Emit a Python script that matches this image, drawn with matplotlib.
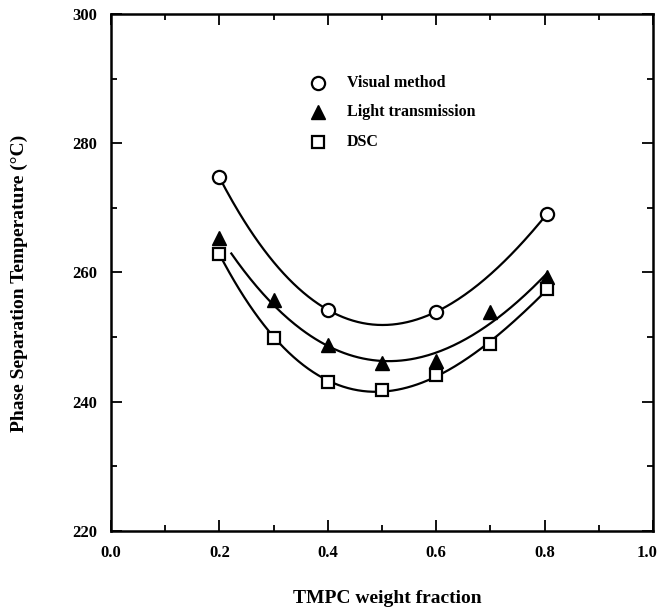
import numpy as np
import matplotlib
matplotlib.use("Agg")
import matplotlib.pyplot as plt
from matplotlib.ticker import MultipleLocator, FuncFormatter

plt.rcParams['font.family'] = ['Liberation Serif', 'DejaVu Serif']
plt.rcParams['font.weight'] = 'bold'

# TMPC weight fraction and measured phase separation temperatures (°C)
x_visual = [0.2, 0.4, 0.6, 0.805]
t_visual = [274.7, 254.2, 253.9, 269.1]

x_light = [0.2, 0.3, 0.4, 0.5, 0.6, 0.7, 0.805]
t_light = [265.3, 255.7, 248.7, 245.9, 246.3, 253.9, 259.3]

x_dsc = [0.2, 0.3, 0.4, 0.5, 0.6, 0.7, 0.805]
t_dsc = [262.9, 249.9, 243.1, 241.8, 244.1, 248.9, 257.5]

labels = ["Visual method", "Light transmission", "DSC"]

fig = plt.figure(figsize=(6.58, 6.08), dpi=100)
ax = fig.add_axes([0.1687, 0.1271, 0.8237, 0.8499])

# smooth trend curves: cubic least-squares fits of each series
def trend(xs, ts, x0, x1):
    c = np.polyfit(xs, ts, 3)
    xx = np.linspace(x0, x1, 200)
    return xx, np.polyval(c, xx)

for xs, ts, x0 in [(x_visual, t_visual, 0.2), (x_light, t_light, 0.222), (x_dsc, t_dsc, 0.2)]:
    xx, yy = trend(xs, ts, x0, xs[-1])
    ax.plot(xx, yy, color='black', lw=1.6, zorder=2)

ax.plot(x_visual, t_visual, 'o', ms=9.5, mfc='white', mec='black', mew=1.6, ls='none', zorder=3)
ax.plot(x_light, t_light, '^', ms=9.5, mfc='black', mec='black', mew=1.0, ls='none', zorder=3)
ax.plot(x_dsc, t_dsc, 's', ms=9, mfc='white', mec='black', mew=1.6, ls='none', zorder=3)

# key placed inside the plotting area
key_x = 0.382
key_y = [289.3, 284.8, 280.2]
ax.plot([key_x], [key_y[0]], 'o', ms=9.5, mfc='white', mec='black', mew=1.6)
ax.plot([key_x], [key_y[1]], '^', ms=9.5, mfc='black', mec='black')
ax.plot([key_x], [key_y[2]], 's', ms=9, mfc='white', mec='black', mew=1.6)
for yk, lab in zip(key_y, labels):
    ax.text(0.435, yk, lab, fontsize=11.5, fontweight='bold', va='center', ha='left')

ax.set_xlim(0.0, 1.0)
ax.set_ylim(220, 300)
ax.xaxis.set_major_locator(MultipleLocator(0.2))
ax.xaxis.set_minor_locator(MultipleLocator(0.1))
ax.yaxis.set_major_locator(MultipleLocator(20))
ax.yaxis.set_minor_locator(MultipleLocator(10))

# the label at the right end is drawn separately, pulled slightly inward
x_end = ax.get_xlim()[1]
ax.xaxis.set_major_formatter(FuncFormatter(
    lambda v, pos: '' if abs(v - x_end) < 1e-9 else f'{v:.1f}'))
ax.annotate(f'{x_end:.1f}', xy=(x_end, 0), xycoords=('data', 'axes fraction'),
            xytext=(-6, -14), textcoords='offset pixels', ha='center', va='top',
            fontsize=12, fontweight='bold', annotation_clip=False)

ax.tick_params(which='both', direction='in', top=True, right=True, width=1.3)
ax.tick_params(which='major', length=8, pad=10, labelsize=12)
ax.tick_params(which='minor', length=4)
for lab in ax.get_xticklabels() + ax.get_yticklabels():
    lab.set_fontweight('bold')
for s in ax.spines.values():
    s.set_linewidth(1.8)

fig.text(0.588, 0.0085, "TMPC weight fraction", fontsize=14, fontweight='bold',
         ha='center', va='baseline')
fig.text(0.030, 0.5345, "Phase Separation Temperature (°C)", fontsize=14, fontweight='bold',
         rotation=90, ha='center', va='center')

fig.savefig("out.png", dpi=100)
